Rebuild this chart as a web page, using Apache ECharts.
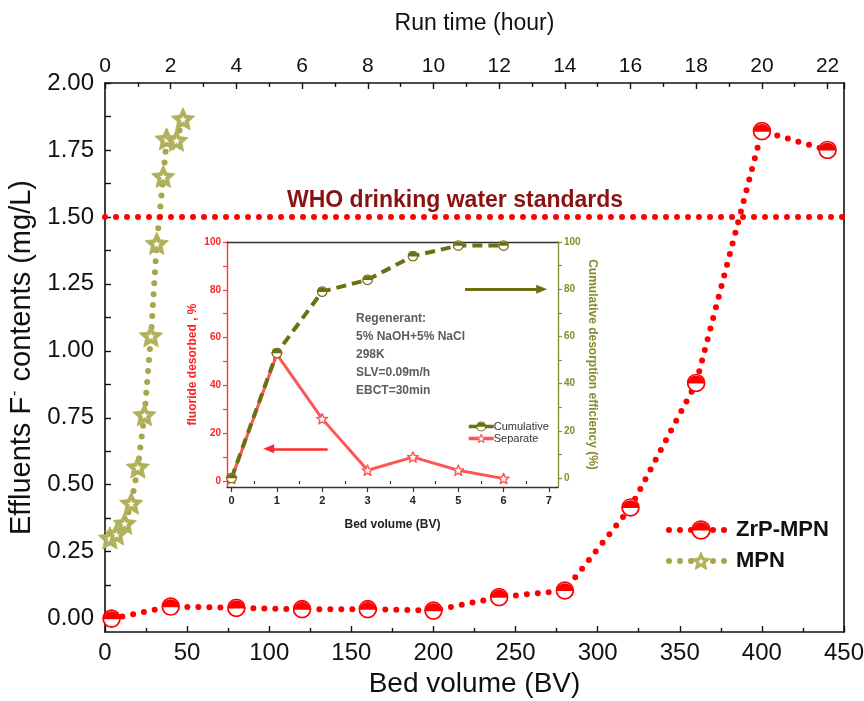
<!DOCTYPE html>
<html>
<head>
<meta charset="utf-8">
<script src="https://cdn.jsdelivr.net/npm/echarts@6/dist/echarts.min.js"></script>
<style>
  html, body { margin: 0; padding: 0; background: #fff; }
  #chart { width: 864px; height: 701px; }
</style>
</head>
<body>
<div id="chart"></div>
<script>
// Column breakthrough: effluent fluoride versus treated bed volumes
const zrpBV = [4, 40, 80, 120, 160, 200, 240, 280, 320, 360, 400, 440];
const zrpF  = [0.00, 0.045, 0.04, 0.035, 0.035, 0.03, 0.08, 0.105, 0.415, 0.88, 1.82, 1.75];
const mpnBV = [3, 7, 12, 16, 20, 24, 28, 31.5, 35.5, 37.5, 43.5, 47.5];
const mpnF  = [0.30, 0.315, 0.355, 0.43, 0.565, 0.76, 1.055, 1.40, 1.65, 1.79, 1.785, 1.865];
const whoLimit = 1.5;

// Regeneration run (inset)
const regenBV    = [0, 1, 2, 3, 4, 5, 6];
const separate   = [1, 53, 26, 4.5, 10, 4.5, 1];
const cumulative = [0, 53, 79, 84, 94, 98.5, 98.5];

// Tick values
const fTicks      = [0, 0.25, 0.5, 0.75, 1.0, 1.25, 1.5, 1.75, 2.0];
const fMinorTicks = [0, 0.125, 0.25, 0.375, 0.5, 0.625, 0.75, 0.875, 1.0, 1.125, 1.25, 1.375, 1.5, 1.625, 1.75, 1.875, 2.0];
const insetBVTicks = [0, 1, 2, 3, 4, 5, 6, 7];
const insetBVMinor = [0.5, 1.5, 2.5, 3.5, 4.5, 5.5, 6.5];
const pctTicks   = [0, 20, 40, 60, 80, 100];
const pctMinor   = [0, 10, 20, 30, 40, 50, 60, 70, 80, 90, 100];

const SANS = "'Liberation Sans', Arial, sans-serif";
const RED = '#ff0000';
const KHAKI = '#b1b15c';
const KHAKI_LINE = '#a6a64c';
const OLIVE = '#6e6e12';
const OLIVE_AXIS = '#8f8f35';
const INSET_RED = '#ff5555';

function svgSymbol(svg) {
  return 'image://data:image/svg+xml;charset=utf-8,' + encodeURIComponent(svg);
}
function starPts(cx, cy, R, r) {
  const pts = [];
  for (let i = 0; i < 10; i++) {
    const a = -Math.PI / 2 + i * Math.PI / 5;
    const rad = i % 2 === 0 ? R : r;
    pts.push((cx + rad * Math.cos(a)).toFixed(2) + ',' + (cy + rad * Math.sin(a)).toFixed(2));
  }
  return pts.join(' ');
}
// circle with upper half filled, lower half white
function halfDisc(color, sw) {
  const r = 10 - sw / 2 - 0.2;
  const dy = 0.6, dx = Math.sqrt(r * r - dy * dy);
  return svgSymbol(
    `<svg xmlns="http://www.w3.org/2000/svg" width="60" height="60" viewBox="0 0 20 20">` +
    `<circle cx="10" cy="10" r="${r}" fill="#fff" stroke="${color}" stroke-width="${sw}"/>` +
    `<path d="M${(10 - dx).toFixed(2)} ${10 + dy} A${r} ${r} 0 0 1 ${(10 + dx).toFixed(2)} ${10 + dy} Z" fill="${color}"/>` +
    `</svg>`);
}
const zrpSymbol = halfDisc(RED, 1.8);
const cumSymbol = halfDisc(OLIVE, 2.2);
const mpnSymbol = svgSymbol(
  `<svg xmlns="http://www.w3.org/2000/svg" width="60" height="60" viewBox="0 0 24 24">` +
  `<polygon points="${starPts(12, 12.8, 11.8, 5.6)}" fill="${KHAKI}" stroke="${KHAKI}" stroke-width="0.8" stroke-linejoin="round"/>` +
  `<polygon points="${starPts(12, 12.6, 3.6, 1.6)}" fill="#fff"/>` +
  `</svg>`);
const sepSymbol = svgSymbol(
  `<svg xmlns="http://www.w3.org/2000/svg" width="60" height="60" viewBox="0 0 24 24">` +
  `<polygon points="${starPts(12, 12.8, 10.5, 4.6)}" fill="#fff" stroke="${INSET_RED}" stroke-width="2.6" stroke-linejoin="round"/>` +
  `</svg>`);

const zip = (xs, ys) => xs.map((x, i) => [x, ys[i]]);
const DOT_DASH = [0, 11];
const dots = (color) => ({ color, width: 6, type: DOT_DASH, cap: 'round' });

const chart = echarts.init(document.getElementById('chart'), null, { renderer: 'canvas' });

chart.setOption({
  backgroundColor: '#fff',
  animation: false,
  grid: [
    { left: 105, right: 20, top: 83, bottom: 69, containLabel: false, outerBoundsMode: 'none' },
    { left: 227, right: 306, top: 242, bottom: 214, containLabel: false, outerBoundsMode: 'none' }
  ],
  xAxis: [
    { // Bed volume (main, bottom)
      gridIndex: 0, type: 'value', position: 'bottom', min: 0, max: 450, interval: 50,
      name: 'Bed volume (BV)', nameLocation: 'middle', nameGap: 36,
      nameTextStyle: { fontFamily: SANS, fontSize: 28, color: '#111' },
      axisLine: { show: true, onZero: false, lineStyle: { color: '#111', width: 1.6 } },
      axisTick: { show: true, inside: true, length: 6, lineStyle: { color: '#111', width: 1.4 } },
      minorTick: { show: true, splitNumber: 2, length: 4, lineStyle: { color: '#111', width: 1.4 } },
      axisLabel: { fontFamily: SANS, fontSize: 24, color: '#111', margin: 9 },
      splitLine: { show: false }
    },
    { // Run time (main, top)
      gridIndex: 0, type: 'value', position: 'top', min: 0, max: 22.5, interval: 2,
      name: 'Run time (hour)', nameLocation: 'middle', nameGap: 48,
      nameTextStyle: { fontFamily: SANS, fontSize: 23, color: '#111' },
      axisLine: { show: true, onZero: false, lineStyle: { color: '#111', width: 1.6 } },
      axisTick: { show: true, inside: true, length: 6, lineStyle: { color: '#111', width: 1.4 } },
      minorTick: { show: true, splitNumber: 2, length: 4, lineStyle: { color: '#111', width: 1.4 } },
      axisLabel: { fontFamily: SANS, fontSize: 21, color: '#111', margin: 6, showMaxLabel: false },
      splitLine: { show: false }
    },
    { // Bed volume (inset)
      gridIndex: 1, type: 'value', position: 'bottom', min: -0.1, max: 7.2,
      name: 'Bed volume (BV)', nameLocation: 'middle', nameGap: 32,
      nameTextStyle: { fontFamily: SANS, fontSize: 12, fontWeight: 'bold', color: '#222' },
      axisLine: { show: true, onZero: false, lineStyle: { color: '#333', width: 1.4 } },
      axisTick: { show: true, inside: false, length: 5, customValues: insetBVTicks, lineStyle: { color: '#333', width: 1.2 } },
      axisLabel: { fontFamily: SANS, fontSize: 11, fontWeight: 'bold', color: '#222', margin: 8, customValues: insetBVTicks },
      splitLine: { show: false }
    },
    { // inset minor ticks
      gridIndex: 1, type: 'value', position: 'bottom', min: -0.1, max: 7.2,
      axisLine: { show: false },
      axisTick: { show: true, inside: false, length: 3, customValues: insetBVMinor, lineStyle: { color: '#333', width: 1.2 } },
      axisLabel: { show: false },
      splitLine: { show: false }
    },
    { // inset top frame
      gridIndex: 1, type: 'value', position: 'top', min: -0.1, max: 7.2,
      axisLine: { show: true, onZero: false, lineStyle: { color: '#333', width: 1.4 } },
      axisTick: { show: false }, axisLabel: { show: false }, splitLine: { show: false }
    }
  ],
  yAxis: [
    { // Effluent fluoride (main)
      gridIndex: 0, type: 'value', position: 'left', min: -0.05, max: 2.0,
      name: 'Effluents F{sup|-} contents (mg/L)', nameLocation: 'middle', nameGap: 59, nameRotate: 90,
      nameTextStyle: {
        fontFamily: SANS, fontSize: 29, color: '#111',
        rich: { sup: { fontFamily: SANS, fontSize: 16, color: '#111', verticalAlign: 'top', padding: [0, 1, 14, 1] } }
      },
      axisLine: { show: true, onZero: false, lineStyle: { color: '#111', width: 1.6 } },
      axisTick: { show: true, inside: true, length: 6, customValues: fMinorTicks, lineStyle: { color: '#111', width: 1.4 } },
      axisLabel: {
        fontFamily: SANS, fontSize: 24, color: '#111', margin: 11, customValues: fTicks,
        formatter: (v) => v.toFixed(2)
      },
      splitLine: { show: false }
    },
    { // right frame
      gridIndex: 0, type: 'value', position: 'right', min: -0.05, max: 2.0,
      axisLine: { show: true, onZero: false, lineStyle: { color: '#111', width: 1.6 } },
      axisTick: { show: false }, axisLabel: { show: false }, splitLine: { show: false }
    },
    { // fluoride desorbed (inset left)
      gridIndex: 1, type: 'value', position: 'left', min: -2.5, max: 100,
      name: 'fluoride desorbed , %', nameLocation: 'middle', nameGap: 28, nameRotate: 90,
      nameTextStyle: { fontFamily: SANS, fontSize: 12, fontWeight: 'bold', color: '#ff2222' },
      axisLine: { show: true, onZero: false, lineStyle: { color: '#ff3b3b', width: 1.4 } },
      axisTick: { show: true, inside: false, length: 4, customValues: pctMinor, lineStyle: { color: '#ff3b3b', width: 1.2 } },
      axisLabel: { fontFamily: SANS, fontSize: 10, fontWeight: 'bold', color: '#ff2222', margin: 6, customValues: pctTicks },
      splitLine: { show: false }
    },
    { // cumulative efficiency (inset right)
      gridIndex: 1, type: 'value', position: 'right', min: -3.8, max: 100,
      name: 'Cumulative desorption efficiency (%)', nameLocation: 'middle', nameGap: 28, nameRotate: -90,
      nameTextStyle: { fontFamily: SANS, fontSize: 12, fontWeight: 'bold', color: '#8a8a2a' },
      axisLine: { show: true, onZero: false, lineStyle: { color: OLIVE_AXIS, width: 1.4 } },
      axisTick: { show: true, inside: false, length: 4, customValues: pctMinor, lineStyle: { color: OLIVE_AXIS, width: 1.2 } },
      axisLabel: { fontFamily: SANS, fontSize: 10, fontWeight: 'bold', color: '#8a8a2a', margin: 6, customValues: pctTicks },
      splitLine: { show: false }
    }
  ],
  legend: [
    {
      data: ['ZrP-MPN', 'MPN'], orient: 'vertical', left: 661, top: 514,
      itemWidth: 64, itemHeight: 25, itemGap: 9,
      lineStyle: { width: 6, type: DOT_DASH, cap: 'round' },
      textStyle: { fontFamily: SANS, fontSize: 22, fontWeight: 'bold', color: '#111', padding: [0, 0, 0, -2] },
      selectedMode: false
    },
    {
      data: ['Cumulative', 'Separate'], orient: 'vertical', left: 462, top: 416,
      itemWidth: 25, itemHeight: 13, itemGap: 1,
      lineStyle: { width: 3.5 },
      textStyle: { fontFamily: SANS, fontSize: 11, color: '#333', padding: [0, 0, 0, -5] },
      selectedMode: false
    }
  ],
  graphic: [
    {
      type: 'text', left: 287, top: 189, z: 10,
      style: { text: 'WHO drinking water standards', font: "bold 23px 'Liberation Sans', Arial, sans-serif", fill: '#8b1212' }
    },
    {
      type: 'text', left: 356, top: 310, z: 10,
      style: {
        text: 'Regenerant:\n5% NaOH+5% NaCl\n298K\nSLV=0.09m/h\nEBCT=30min',
        font: "bold 12px 'Liberation Sans', Arial, sans-serif", fill: '#5c5c5c', lineHeight: 18
      }
    }
  ],
  series: [
    {
      name: 'ZrP-MPN', type: 'line', xAxisIndex: 0, yAxisIndex: 0,
      data: zip(zrpBV, zrpF),
      symbol: zrpSymbol, symbolSize: 19,
      lineStyle: dots(RED), itemStyle: { color: RED },
      z: 3,
      markLine: {
        silent: true, symbol: ['none', 'none'], label: { show: false },
        lineStyle: dots(RED),
        data: [{ yAxis: whoLimit }]
      }
    },
    {
      name: 'MPN', type: 'line', xAxisIndex: 0, yAxisIndex: 0,
      data: zip(mpnBV, mpnF),
      symbol: mpnSymbol, symbolSize: 25,
      lineStyle: dots(KHAKI_LINE), itemStyle: { color: KHAKI },
      z: 4
    },
    {
      name: 'Separate', type: 'line', xAxisIndex: 2, yAxisIndex: 2,
      data: zip(regenBV, separate),
      symbol: sepSymbol, symbolSize: 13,
      lineStyle: { color: INSET_RED, width: 3 }, itemStyle: { color: INSET_RED },
      z: 5,
      markLine: {
        silent: true, symbol: ['none', 'triangle'], symbolSize: [9, 11], label: { show: false },
        lineStyle: { color: '#ff2a2a', width: 2.5, type: 'solid' },
        data: [[{ coord: [2.12, 13.5] }, { coord: [0.82, 13.5] }]]
      }
    },
    {
      name: 'Cumulative', type: 'line', xAxisIndex: 2, yAxisIndex: 3,
      data: zip(regenBV, cumulative),
      symbol: cumSymbol, symbolSize: 11,
      lineStyle: { color: OLIVE, width: 4, type: [10, 6] }, itemStyle: { color: OLIVE },
      z: 6,
      markLine: {
        silent: true, symbol: ['none', 'triangle'], symbolSize: [9, 11], label: { show: false },
        lineStyle: { color: OLIVE, width: 3, type: 'solid' },
        data: [[{ coord: [5.15, 80] }, { coord: [6.84, 80] }]]
      }
    }
  ]
});
</script>
</body>
</html>
